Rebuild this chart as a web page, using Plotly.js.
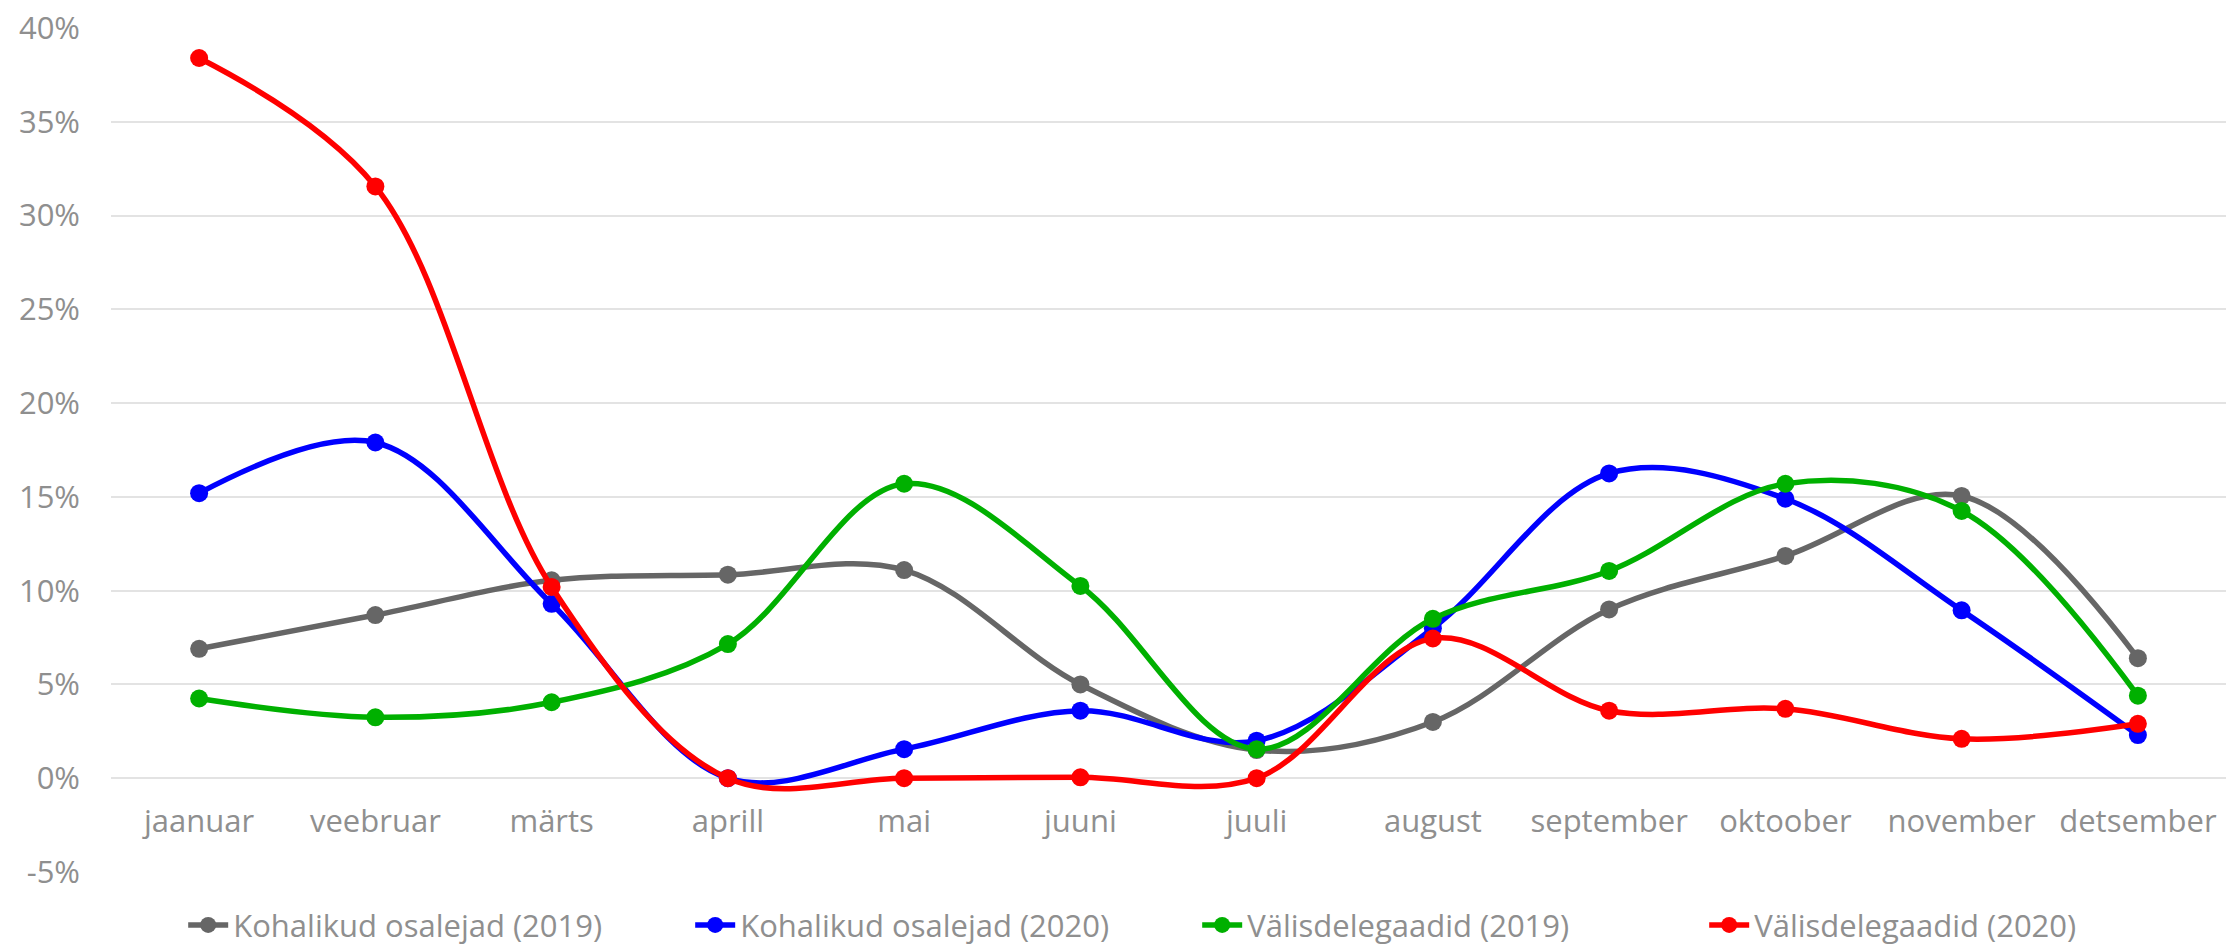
<!DOCTYPE html>
<html>
<head>
<meta charset="utf-8">
<script src="https://cdn.plot.ly/plotly-3.0.1.min.js"></script>
<style>html,body{margin:0;padding:0;background:#fff;}#chart{width:2234px;height:950px;}</style>
</head>
<body>
<div id="chart"></div>
<script>
const months = ["jaanuar","veebruar","märts","aprill","mai","juuni","juuli","august","september","oktoober","november","detsember"];
const kohalikud2019 = [6.9, 8.7, 10.55, 10.85, 11.1, 5.0, 1.5, 3.0, 9.0, 11.85, 15.05, 6.4];
const kohalikud2020 = [15.2, 17.9, 9.3, 0.0, 1.55, 3.6, 2.0, 8.0, 16.25, 14.9, 8.95, 2.3];
const valis2019 = [4.25, 3.25, 4.05, 7.15, 15.7, 10.25, 1.55, 8.5, 11.05, 15.7, 14.25, 4.4];
const valis2020 = [38.4, 31.55, 10.2, 0.0, 0.0, 0.05, 0.0, 7.45, 3.6, 3.7, 2.1, 2.9];
const seriesNames = ["Kohalikud osalejad (2019)","Kohalikud osalejad (2020)","Välisdelegaadid (2019)","Välisdelegaadid (2020)"];
const seriesColors = ["#666666","#0000ff","#00b000","#ff0000"];
const yTickVals = [-5,0,5,10,15,20,25,30,35,40];
const yTickLabels = ["-5%","0%","5%","10%","15%","20%","25%","30%","35%","40%"];

const allSeries = [kohalikud2019, kohalikud2020, valis2019, valis2020];
const traces = allSeries.map((vals, i) => ({
  type: "scatter",
  mode: "lines+markers",
  x: months,
  y: vals,
  name: seriesNames[i],
  line: {color: seriesColors[i], width: 5.5, shape: "spline", smoothing: 1},
  marker: {color: seriesColors[i], size: 18},
  hoverinfo: "skip"
}));

const font = {family: "'Open Sans', Lato, sans-serif", size: 31, color: "#8f8f8f"};
const legendFont = {family: "'Open Sans', Lato, sans-serif", size: 31, color: "#8f8f8f"};
const layout = {
  width: 2234, height: 950,
  margin: {l: 111, r: 8, t: 28, b: 78},
  paper_bgcolor: "#ffffff", plot_bgcolor: "#ffffff",
  font: font,
  showlegend: true,
  legend: {orientation: "h", xref: "container", yref: "container",
           x: 0.082, xanchor: "left", y: 0.026, yanchor: "middle",
           font: legendFont, itemwidth: 40, entrywidth: 452, entrywidthmode: "pixels",
           bgcolor: "rgba(0,0,0,0)"},
  xaxis: {type: "category", range: [-0.5, 11.5], anchor: "free", position: 1/9,
          showgrid: false, zeroline: false, showline: false, ticks: "",
          ticklabelstandoff: 22, tickfont: font, fixedrange: true},
  yaxis: {range: [-5, 40], tickvals: yTickVals, ticktext: yTickLabels,
          showgrid: true, gridcolor: "#e3e3e3", gridwidth: 2,
          zeroline: true, zerolinecolor: "#e3e3e3", zerolinewidth: 2,
          showline: false, ticks: "", ticklabelstandoff: 30, tickfont: font, fixedrange: true},
  hovermode: false
};
Plotly.newPlot("chart", traces, layout, {displayModeBar: false, staticPlot: true});
</script>
</body>
</html>
